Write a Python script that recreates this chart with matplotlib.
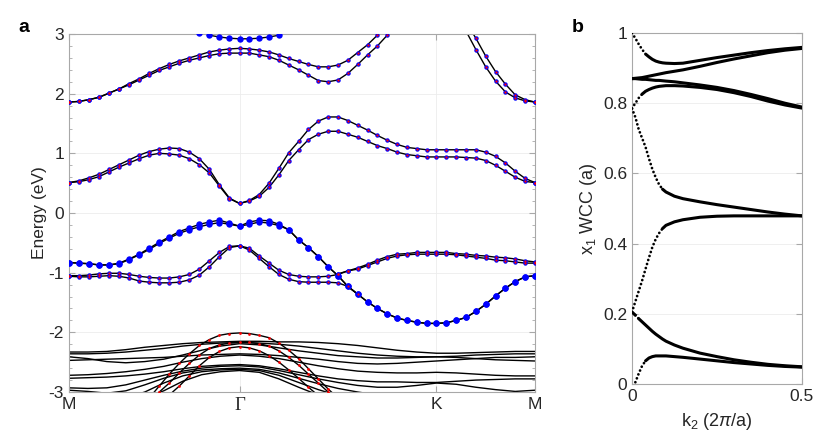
import numpy as np
import matplotlib
matplotlib.use('Agg')
import matplotlib.pyplot as plt
from matplotlib.ticker import MultipleLocator

plt.rcParams['font.family'] = ['Liberation Sans', 'DejaVu Sans']
plt.rcParams['mathtext.fontset'] = 'custom'
plt.rcParams['mathtext.rm'] = 'Liberation Sans'
plt.rcParams['mathtext.it'] = 'Liberation Sans:italic'
plt.rcParams['axes.unicode_minus'] = False

nan = np.nan

# ---- panel a: bands along M - Gamma - K - M (hexagonal zone) ----
seg_len = [np.sqrt(3) / 2, 1.0, 0.5]
sym_labels = ['M', 'Γ', 'K', 'M']

# wannier-interpolated bands (fine k grid, 48 points)
top_upper = [1.86, 1.87, 1.90, 1.94, 2.01, 2.08, 2.17, 2.25, 2.34, 2.42, 2.49, 2.55, 2.60, 2.65, 2.70, 2.73, 2.75, 2.76,
             2.75, 2.73, 2.70, 2.65, 2.59, 2.54, 2.49, 2.45, 2.45, 2.48, 2.56, 2.69, 2.82, 2.98, 3.20,
             nan, nan, nan, nan, nan, nan, nan,
             3.05, 2.74, 2.45, 2.21, 2.03, 1.93, 1.88, 1.86]
top_lower = [1.86, 1.87, 1.90, 1.94, 2.01, 2.08, 2.15, 2.23, 2.31, 2.39, 2.45, 2.51, 2.56, 2.60, 2.64, 2.67, 2.68, 2.68,
             2.68, 2.65, 2.62, 2.56, 2.48, 2.40, 2.31, 2.22, 2.20, 2.23, 2.34, 2.49, 2.65, 2.80, 2.98, 3.20,
             nan, nan, nan, nan, nan, nan,
             3.20, 2.93, 2.63, 2.37, 2.16, 1.98, 1.90, 1.86]
top_flat = [nan] * 13 + [3.02, 2.98, 2.95, 2.93, 2.92, 2.92, 2.93, 2.95, 2.98] + [nan] * 26

mid_upper = [0.51, 0.54, 0.59, 0.65, 0.73, 0.81, 0.89, 0.97, 1.03, 1.07, 1.09, 1.08, 1.02, 0.91, 0.73, 0.47, 0.25, 0.16,
             0.21, 0.31, 0.50, 0.75, 1.01, 1.20, 1.40, 1.54, 1.61, 1.61, 1.55, 1.47, 1.39, 1.30, 1.22, 1.15, 1.10, 1.08,
             1.06, 1.06,
             1.06, 1.06, 1.06, 1.06, 1.02, 0.95, 0.84, 0.70, 0.58, 0.51]
mid_lower = [0.51, 0.525, 0.56, 0.61, 0.69, 0.77, 0.84, 0.91, 0.97, 1.00, 0.99, 0.97, 0.91, 0.81, 0.67, 0.45, 0.24, 0.16,
             0.20, 0.28, 0.43, 0.64, 0.88, 1.06, 1.23, 1.32, 1.37, 1.37, 1.32, 1.27, 1.20, 1.13, 1.08, 1.02, 0.98, 0.96,
             0.94, 0.94,
             0.94, 0.94, 0.93, 0.92, 0.88, 0.80, 0.70, 0.60, 0.53, 0.51]

low_a = [-0.83, -0.84, -0.85, -0.87, -0.87, -0.84, -0.77, -0.69, -0.59, -0.49, -0.40, -0.31, -0.25, -0.19, -0.15, -0.12,
         -0.17, -0.22,
         -0.15, -0.12, -0.13, -0.19, -0.28, -0.45, -0.58, -0.73, -0.90, -1.05, -1.23, -1.36, -1.49, -1.60, -1.69, -1.76,
         -1.80, -1.83, -1.85, -1.85,
         -1.84, -1.80, -1.75, -1.65, -1.53, -1.39, -1.26, -1.15, -1.07, -1.05]
low_b = [-0.83, -0.84, -0.85, -0.87, -0.87, -0.85, -0.78, -0.70, -0.61, -0.51, -0.42, -0.34, -0.28, -0.23, -0.19, -0.16,
         -0.19, -0.22,
         -0.19, -0.15, -0.17, -0.21, -0.28, -0.45, -0.58, -0.73, -0.90, -1.05, -1.23, -1.36, -1.49, -1.60, -1.69, -1.76,
         -1.80, -1.83, -1.85, -1.85,
         -1.84, -1.80, -1.75, -1.65, -1.53, -1.39, -1.26, -1.15, -1.07, -1.05]
low_c = [-1.05, -1.05, -1.04, -1.02, -1.01, -1.01, -1.03, -1.06, -1.08, -1.09, -1.09, -1.07, -1.03, -0.94, -0.80, -0.66,
         -0.56, -0.55,
         -0.59, -0.72, -0.84, -0.96, -1.03, -1.06, -1.07, -1.07, -1.06, -1.03, -0.97, -0.92, -0.86, -0.79, -0.73, -0.69,
         -0.68, -0.66, -0.66, -0.66,
         -0.66, -0.68, -0.69, -0.71, -0.72, -0.74, -0.75, -0.77, -0.80, -0.82]
low_d = [-1.06, -1.07, -1.07, -1.06, -1.05, -1.06, -1.09, -1.14, -1.16, -1.17, -1.17, -1.16, -1.12, -1.04, -0.90, -0.73,
         -0.58, -0.55,
         -0.62, -0.76, -0.90, -1.03, -1.11, -1.15, -1.16, -1.16, -1.16, -1.17, -1.23, -1.36] + [nan] * 18
low_e = [nan] * 27 + [-1.02, -0.97, -0.94, -0.88, -0.82, -0.76, -0.72, -0.70, -0.69, -0.69, -0.69,
                      -0.69, -0.70, -0.72, -0.74, -0.76, -0.79, -0.80, -0.82, -0.84, -0.84]

deep_a = [nan] * 8 + [-3.10, -2.90, -2.70, -2.52, -2.36, -2.22, -2.12, -2.05, -2.02, -2.01,
                      -2.02, -2.05, -2.09, -2.18, -2.30, -2.44, -2.61, -2.78, -2.95, -3.10] + [nan] * 20
deep_b = [nan] * 9 + [-3.00, -2.85, -2.68, -2.52, -2.38, -2.27, -2.21, -2.18, -2.17,
                      -2.17, -2.19, -2.23, -2.31, -2.42, -2.55, -2.70, -2.85, -3.00] + [nan] * 21
deep_c = [nan] * 10 + [-3.05, -2.90, -2.73, -2.56, -2.42, -2.32, -2.26, -2.24,
                       -2.26, -2.31, -2.39, -2.50, -2.63, -2.77, -2.92, -3.06] + [nan] * 22

# DFT-only bands below (coarse k grid, 25 points)
dft_1 = [-2.33, -2.33, -2.32, -2.29, -2.25, -2.22, -2.19, -2.17, -2.16, -2.15, -2.15, -2.16, -2.16, -2.17, -2.19,
         -2.22, -2.26, -2.30, -2.33, -2.35, -2.35, -2.34, -2.33, -2.32, -2.32]
dft_2 = [-2.36, -2.36, -2.35, -2.33, -2.30, -2.27, -2.23, -2.20, -2.18, -2.17, -2.18, -2.20, -2.23, -2.27, -2.31,
         -2.35, -2.38, -2.40, -2.41, -2.41, -2.40, -2.38, -2.37, -2.36, -2.36]
dft_3 = [-2.41, -2.44, -2.49, -2.51, -2.49, -2.45, -2.38, -2.30, -2.23, -2.19, -2.21, -2.26, -2.31, -2.35, -2.39,
         -2.41, -2.43, -2.43, -2.42, -2.41, -2.42, -2.44, -2.46, -2.47, -2.48]
dft_4 = [-2.47, -2.46, -2.45, -2.44, -2.43, -2.42, -2.40, -2.38, -2.37, -2.36, -2.37, -2.39, -2.42, -2.45, -2.49,
         -2.52, -2.53, -2.52, -2.50, -2.48, -2.46, -2.44, -2.42, -2.42, -2.41]
dft_5 = [-2.72, -2.71, -2.69, -2.66, -2.62, -2.57, -2.50, -2.44, -2.40, -2.38, -2.40, -2.44, -2.50, -2.56, -2.61,
         -2.65, -2.67, -2.68, -2.68, -2.67, -2.68, -2.70, -2.72, -2.73, -2.73]
dft_6 = [-2.77, -2.76, -2.75, -2.73, -2.70, -2.66, -2.61, -2.57, -2.55, -2.54, -2.56, -2.61, -2.67, -2.73, -2.78,
         -2.81, -2.83, -2.83, -2.84, -2.84, -2.82, -2.80, -2.79, -2.78, -2.78]
dft_7 = [-2.93, -2.94, -2.93, -2.88, -2.80, -2.72, -2.65, -2.60, -2.57, -2.56, -2.58, -2.64, -2.71, -2.78, -2.84,
         -2.89, -2.92, -2.92, -2.89, -2.85, -2.87, -2.92, -2.96, -2.99, -2.97]
dft_8 = [-2.97, -2.99, -3.02, -2.98, -2.88, -2.77, -2.68, -2.63, -2.61, -2.60, -2.62, -2.68, -2.77, -2.86, -2.94,
         -3.00, -3.05] + [nan] * 8
dft_9 = [nan] * 3 + [-3.10, -3.00, -2.85, -2.73, -2.66, -2.63, -2.62, -2.64, -2.72, -2.84, -2.96, -3.06] + [nan] * 10
dft_10 = [nan] * 4 + [-3.10, -2.98, -2.82, -2.71, -2.66, -2.64, -2.67, -2.78, -2.92, -3.05] + [nan] * 11

# ---- panel b: Wannier charge centres ----
wcc_k = [0, 0.01, 0.02, 0.03, 0.04, 0.05, 0.06, 0.07, 0.08, 0.09, 0.1, 0.125, 0.15, 0.2, 0.25, 0.3, 0.35, 0.4, 0.45, 0.5]
wcc_1 = [1.0, 0.985, 0.968, 0.953, 0.940, 0.932, 0.925, 0.920, 0.917, 0.915, 0.914, 0.913, 0.914, 0.922, 0.930, 0.937,
         0.944, 0.950, 0.955, 0.959]
wcc_2 = [0.870, 0.871, 0.872, 0.873, 0.875, 0.877, 0.879, 0.881, 0.883, 0.885, 0.887, 0.891, 0.895, 0.905, 0.916,
         0.926, 0.935, 0.944, 0.951, 0.956]
wcc_3 = [0.870, 0.870, 0.869, 0.868, 0.868, 0.867, 0.866, 0.865, 0.865, 0.864, 0.863, 0.861, 0.858, 0.852, 0.845,
         0.836, 0.825, 0.813, 0.800, 0.789]
wcc_4 = [0.785, 0.800, 0.815, 0.826, 0.834, 0.839, 0.843, 0.846, 0.848, 0.849, 0.850, 0.850, 0.849, 0.845, 0.839,
         0.830, 0.819, 0.806, 0.795, 0.786]
wcc_5 = [0.785, 0.760, 0.725, 0.700, 0.675, 0.642, 0.612, 0.588, 0.568, 0.555, 0.547, 0.535, 0.528, 0.519, 0.511,
         0.504, 0.497, 0.490, 0.484, 0.479]
wcc_6 = [0.205, 0.235, 0.265, 0.295, 0.328, 0.360, 0.390, 0.413, 0.430, 0.443, 0.452, 0.462, 0.468, 0.475, 0.478,
         0.479, 0.479, 0.479, 0.479, 0.479]
wcc_7 = [0.205, 0.196, 0.186, 0.177, 0.168, 0.159, 0.150, 0.142, 0.135, 0.128, 0.122, 0.111, 0.102, 0.088, 0.078,
         0.069, 0.062, 0.056, 0.052, 0.049]
wcc_8 = [nan, 0.005, 0.030, 0.052, 0.066, 0.074, 0.078, 0.080, 0.080, 0.080, 0.080, 0.078, 0.076, 0.071, 0.066,
         0.061, 0.057, 0.053, 0.050, 0.048]

AX_GRAY = '#a8a8a8'
TXT = '#262626'
BLUE = '#0000ff'
FS = 12.5


def matlab_style(ax):
    for s in ax.spines.values():
        s.set_color(AX_GRAY)
        s.set_linewidth(0.8)
    ax.tick_params(which='both', direction='in', top=True, right=True,
                   color=AX_GRAY, labelcolor=TXT, labelsize=FS)
    ax.tick_params(which='major', length=4)
    ax.tick_params(which='minor', length=2.2)
    ax.grid(True, color='#ececec', lw=0.6)
    ax.set_axisbelow(True)


def draw_band(ax, k, e, blue_ms=None, red_ms=1.5):
    ax.plot(k, e, color='k', lw=1.0, zorder=2)
    if blue_ms:
        ax.plot(k, e, ls='none', marker='o', ms=blue_ms, mfc=BLUE, mec=BLUE, mew=0, zorder=3)
    if red_ms:
        ax.plot(k, e, ls='none', marker='o', ms=red_ms, mfc='red', mec='red', mew=0, zorder=4)


def draw_wcc(ax, k, w):
    k = np.asarray(k, float)
    w = np.asarray(w, float)
    with np.errstate(invalid='ignore'):
        steep = np.abs(np.diff(w) / np.diff(k)) > 1.0
    start = 0
    for i in range(1, len(steep) + 1):
        if i == len(steep) or steep[i] != steep[start]:
            sl = slice(start, i + 1)
            if steep[start]:
                ax.plot(k[sl], w[sl], color='k', lw=2.0, ls=(0, (0.01, 1.5)),
                        dash_capstyle='round', zorder=3)
            else:
                ax.plot(k[sl], w[sl], color='k', lw=2.2, solid_capstyle='round', zorder=3)
            start = i


fig = plt.figure(figsize=(8.3, 4.43), dpi=100)
ax_a = fig.add_axes([0.0831, 0.1151, 0.5614, 0.8081])
ax_b = fig.add_axes([0.7614, 0.1332, 0.2048, 0.7923])

# k path positions
k_sym = np.concatenate([[0], np.cumsum(seg_len)])
k_fine = np.concatenate([np.linspace(k_sym[0], k_sym[1], 18),
                         np.linspace(k_sym[1], k_sym[2], 21)[1:],
                         np.linspace(k_sym[2], k_sym[3], 11)[1:]])
k_coarse = np.concatenate([np.linspace(k_sym[0], k_sym[1], 10),
                           np.linspace(k_sym[1], k_sym[2], 11)[1:],
                           np.linspace(k_sym[2], k_sym[3], 6)[1:]])

matlab_style(ax_a)
for e in [dft_1, dft_2, dft_3, dft_4, dft_5, dft_6, dft_7, dft_8, dft_9, dft_10]:
    ax_a.plot(k_coarse, e, color='k', lw=1.0, zorder=2)
for e in [deep_a, deep_b, deep_c]:
    draw_band(ax_a, k_fine, e, blue_ms=None, red_ms=2.0)
for e in [top_upper, top_lower, mid_upper, mid_lower, low_c, low_d, low_e]:
    draw_band(ax_a, k_fine, e, blue_ms=3.2, red_ms=1.6)
for e in [low_a, low_b, top_flat]:
    draw_band(ax_a, k_fine, e, blue_ms=4.6, red_ms=None)

ax_a.set_xlim(k_sym[0], k_sym[-1])
ax_a.set_ylim(-3, 3)
ax_a.set_xticks(k_sym)
ax_a.set_xticklabels(sym_labels)
ax_a.get_xticklabels()[1].set_fontfamily(['Liberation Serif', 'DejaVu Serif'])
ax_a.get_xticklabels()[1].set_fontsize(13.5)
ax_a.set_yticks(range(-3, 4))
ax_a.set_yticklabels([str(v) for v in range(-3, 4)])
ax_a.yaxis.set_minor_locator(MultipleLocator(0.2))
ax_a.set_ylabel('Energy (eV)', fontsize=FS, color=TXT, labelpad=1)

matlab_style(ax_b)
for w in [wcc_1, wcc_2, wcc_3, wcc_4, wcc_5, wcc_6, wcc_7, wcc_8]:
    draw_wcc(ax_b, wcc_k, w)
ax_b.set_xlim(0, 0.5)
ax_b.set_ylim(0, 1)
ax_b.set_xticks([0, 0.5])
ax_b.set_xticklabels(['0', '0.5'])
ax_b.set_yticks([0, 0.2, 0.4, 0.6, 0.8, 1.0])
ax_b.set_yticklabels(['0', '0.2', '0.4', '0.6', '0.8', '1'])
ax_b.set_xlabel(r'k$_2$ (2$\pi$/a)', fontsize=FS + 0.5, color=TXT, labelpad=5)
ax_b.set_ylabel(r'x$_1$ WCC (a)', fontsize=FS + 0.5, color=TXT, labelpad=3)

fig.text(18 / 830, 1 - 28 / 443, 'a', fontsize=14, fontweight='bold', va='center', ha='left')
fig.text(572 / 830, 1 - 28 / 443, 'b', fontsize=14, fontweight='bold', va='center', ha='left')

fig.savefig('out.png', dpi=100)
